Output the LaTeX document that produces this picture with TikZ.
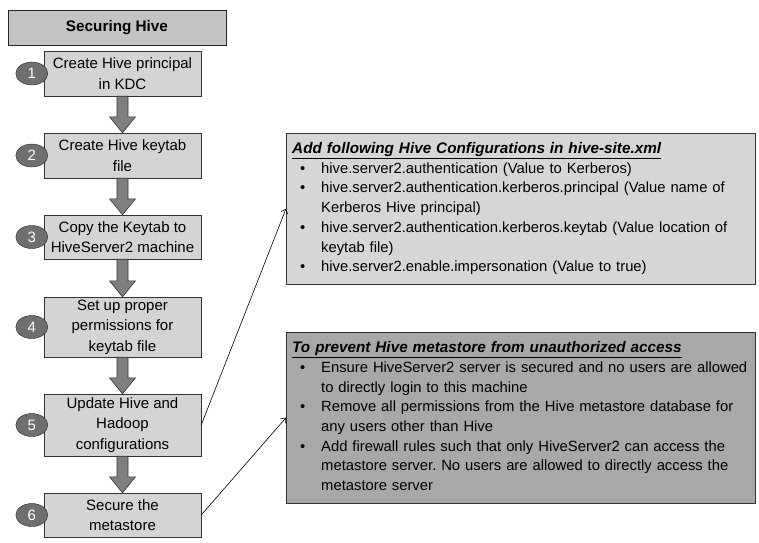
\documentclass[tikz,border=0pt]{standalone}
\usepackage{fontspec}
\setmainfont{Liberation Sans}
\usepackage{tikz}
\usetikzlibrary{arrows.meta,positioning,calc,shapes.geometric}
\definecolor{stepgray}{HTML}{D4D4D4}
\definecolor{titlegray}{HTML}{C3C3C3}
\definecolor{numgray}{HTML}{6F6F6F}
\definecolor{arrowgray}{HTML}{7F7F7F}
\definecolor{cfggray}{HTML}{D6D6D6}
\definecolor{metagray}{HTML}{A8A8A8}
\tikzset{
  hsTitle/.style={draw=black!85, fill=titlegray, minimum width=218, minimum height=35,
    font=\fontsize{15.3}{17}\selectfont\bfseries},
  hsStep/.style={draw=black!80, fill=stepgray, minimum width=157, inner sep=1pt,
    font=\fontsize{15}{20.5}\selectfont, align=center},
  hsNum/.style={ellipse, draw=black!85, fill=numgray, minimum width=32, minimum height=23,
    inner sep=0pt, font=\fontsize{15}{16}\selectfont, text=white},
  %% block arrows between the steps
  hsFlow/.style={draw=black!80, fill=arrowgray, line width=0.6pt},
  %% side boxes
  hsNote/.style={draw=black!80, text width=457, inner sep=6pt, minimum height=151,
    font=\fontsize{14.8}{19.7}\selectfont\frenchspacing, align=left},
  hsLink/.style={-{Straight Barb[length=4pt, width=7pt]}, line width=0.6pt},
}
\newcommand{\hsHead}[1]{\multicolumn{2}{@{}l}{\fontsize{15.3}{19.7}\selectfont\bfseries\itshape\underline{#1}}\\}

\begin{document}
\begin{tikzpicture}[x=1pt, y=-1pt]
\useasboundingbox (0,0) rectangle (759,542);

\node[hsTitle] (title) at (117,27.5) {Securing Hive};

\node[hsStep, minimum height=45] (s1) at (122.5,73.5) {Create Hive principal\\in KDC};
\node[hsStep, minimum height=45] (s2) at (122.5,155.5) {Create Hive keytab\\file};
\node[hsStep, minimum height=44] (s3) at (122.5,237) {Copy the Keytab to\\HiveServer2 machine};
\node[hsStep, minimum height=60] (s4) at (122.5,327) {Set up proper\\permissions for\\keytab file};
\node[hsStep, minimum height=62] (s5) at (122.5,425) {Update Hive and\\Hadoop\\configurations};
\node[hsStep, minimum height=44] (s6) at (122.5,515) {Secure the\\metastore};

\foreach \i in {1,...,6}
  \node[hsNum] (n\i) at ([xshift=-12pt]s\i.west) {\i};

\foreach \a/\b in {s1/s2, s2/s3, s3/s4, s4/s5, s5/s6}
  \filldraw[hsFlow] ($(\a.south)+(-5.5,0)$) -- ($(\b.north)+(-5.5,-16)$)
    -- ($(\b.north)+(-13,-16)$) -- (\b.north) -- ($(\b.north)+(13,-16)$)
    -- ($(\b.north)+(5.5,-16)$) -- ($(\a.south)+(5.5,0)$) -- cycle;

\node[hsNote, fill=cfggray, anchor=north west] (cfg) at (286,133) {%
  \begin{tabular}{@{\hspace{8pt}}p{21pt}@{}l@{}}
  \hsHead{Add following Hive Configurations in hive-site.xml}
  \textbullet & hive.server2.authentication (Value to Kerberos)\\
  \textbullet & hive.server2.authentication.kerberos.principal (Value name of\\
   & Kerberos Hive principal)\\
  \textbullet & hive.server2.authentication.kerberos.keytab (Value location of\\
   & keytab file)\\
  \textbullet & hive.server2.enable.impersonation (Value to true)
  \end{tabular}};

\node[hsNote, fill=metagray, minimum height=171, anchor=north west] (meta) at (286,332) {%
  \begin{tabular}{@{\hspace{8pt}}p{21pt}@{}l@{}}
  \hsHead{To prevent Hive metastore from unauthorized access}
  \textbullet & Ensure HiveServer2 server is secured and no users are allowed\\
   & to directly login to this machine\\
  \textbullet & Remove all permissions from the Hive metastore database for\\
   & any users other than Hive\\
  \textbullet & Add firewall rules such that only HiveServer2 can access the\\
   & metastore server. No users are allowed to directly access the\\
   & metastore server
  \end{tabular}};

\draw[hsLink] (s5.east) -- (cfg.west);
\draw[hsLink] (s6.east) -- (meta.west);

\end{tikzpicture}
\end{document}
